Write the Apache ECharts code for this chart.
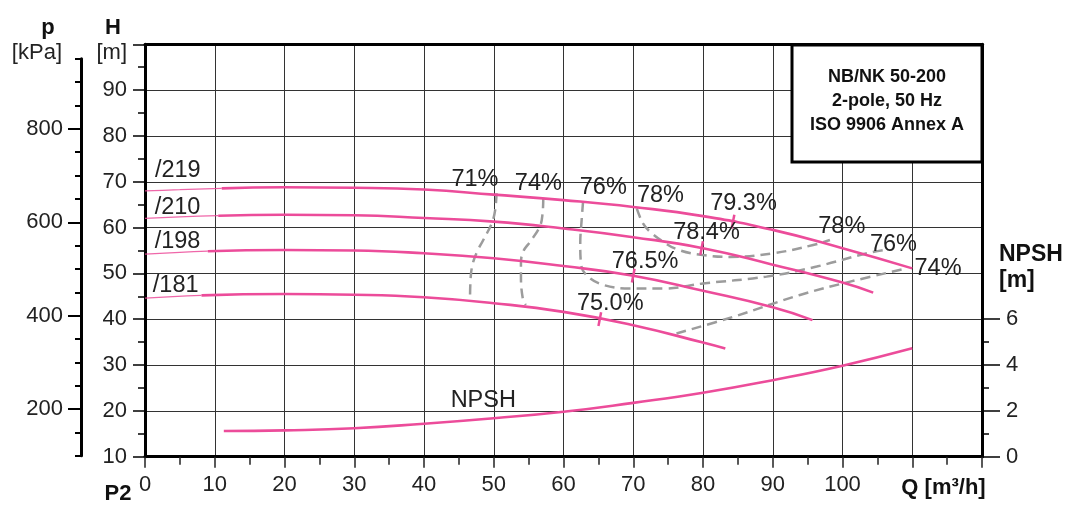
<!DOCTYPE html>
<html><head><meta charset="utf-8">
<script src="https://cdn.jsdelivr.net/npm/echarts@6/dist/echarts.min.js"></script>
<style>html,body{margin:0;padding:0;background:#fff}#c{width:1068px;height:507px}</style>
</head><body><div id="c"></div>
<script>
// ---- data: Q [m3/h], H [m] ----
const curve219 = [[0,68.0],[5,68.3],[11,68.55],[20,68.8],[30,68.7],[40,68.3],[50,67.2],[60,66.0],[70,64.5],[80,62.5],[90,59.5],[100,55.5],[110,51.1]];
const curve210 = [[0,62.0],[5,62.35],[10.5,62.6],[20,62.8],[30,62.7],[40,62.1],[50,61.3],[60,59.8],[70,57.9],[80,55.5],[90,51.9],[100,48.0],[104.4,45.8]];
const curve198 = [[0,54.2],[5,54.6],[9,54.85],[20,55.1],[30,55.0],[40,54.4],[50,53.3],[60,51.6],[70,49.5],[80,46.2],[90,42.6],[95.7,39.8]];
const curve181 = [[0,44.6],[4,44.95],[8.1,45.2],[20,45.5],[30,45.35],[40,44.8],[50,43.5],[60,41.6],[70,38.7],[80,34.9],[83.2,33.6]];
const thinUntil = {'/219':11, '/210':10.5, '/198':9, '/181':8.1};
// NPSH [m]
const npsh = [[11.3,1.12],[20,1.15],[30,1.24],[40,1.44],[50,1.68],[60,1.96],[70,2.35],[80,2.79],[90,3.34],[100,3.97],[110,4.73]];
// iso-efficiency contours
const eff71  = [[50.4,67.5],[50.2,63.8],[49.7,60.9],[48.5,57.3],[47.6,54.7],[47.0,52.2],[46.7,49.3],[46.6,44.5]];
const eff74a = [[57.1,66.4],[57.0,63.1],[56.6,60.2],[55.2,56.9],[54.2,54.7],[53.9,52.2],[53.9,49.3],[54.2,44.2],[54.6,43.1]];
const eff76  = [[62.8,65.6],[62.6,61.6],[62.4,56.6],[62.5,52.2],[63.3,49.6],[65.7,47.5],[69.5,46.7],[74.3,46.7],[80.0,47.8],[89.1,49.3],[96.3,51.5],[103.5,54.4],[105.9,55.1]];
const eff78  = [[70.5,64.2],[71.4,60.9],[72.4,59.1],[74.3,56.9],[76.2,55.3],[79.1,54.2],[83.9,53.6],[90.1,54.4],[95.8,56.2],[98.2,57.3]];
const eff74b = [[76.2,36.9],[84.3,40.5],[93.9,45.3],[101.1,48.2],[109.2,51.1]];
// best efficiency marks on each curve
const bepMarks = [[84.3,61.3],[79.8,55.5],[70.0,49.5],[65.2,40.0]];
// text labels [text, Q, H]
const effLabels = [['71%',47.3,70.6],['74%',56.4,69.7],['76%',65.7,68.7],['78%',73.9,67.1],['79.3%',85.8,65.3],['78.4%',80.5,58.9],['76.5%',71.7,52.7],['75.0%',66.7,43.4],['78%',99.9,60.3],['76%',107.3,56.4],['74%',113.7,51.0]];
const curveLabels = [['/219',4.7,72.4],['/210',4.66,64.4],['/198',4.66,57.0],['/181',4.4,47.4],['NPSH',48.5,22.3]];
const xTicks = [0,10,20,30,40,50,60,70,80,90,100];
const pTicks = [200,400,600,800];
const infoLines = ['NB/NK 50-200','2-pole, 50 Hz','ISO 9906 Annex A'];

// ---- layout ----
const PINK='#ec4c9a', GRAY='#9c9c9c', TXT='#222';
const FONT='"Liberation Sans", Arial, Helvetica, sans-serif';
const L=145, R=982, T=44.3, B=456.7, HMIN=10, HMAX=100;
const pxPerM=(B-T)/(HMAX-HMIN);
const yH=h=>B-(h-HMIN)*pxPerM;
const yP=k=>yH(k/9.81);
const yN=n=>yH(HMIN+5*n);
const lbl={fontSize:22,color:TXT,fontFamily:FONT};

const chart=echarts.init(document.getElementById('c'));
const series=[];
[eff71,eff74a,eff76,eff78,eff74b].forEach(d=>{
  series.push({type:'line',data:d,smooth:0.4,symbol:'none',z:2,
    lineStyle:{color:GRAY,width:2.5,type:[10,6]},xAxisIndex:0,yAxisIndex:0});
});
[['/219',curve219],['/210',curve210],['/198',curve198],['/181',curve181]].forEach(([n,d])=>{
  const q=thinUntil[n];
  series.push({type:'line',data:d.filter(p=>p[0]<=q),smooth:true,symbol:'none',z:3,
    lineStyle:{color:PINK,width:1.3,opacity:0.85}});
  series.push({type:'line',data:d.filter(p=>p[0]>=q),smooth:true,symbol:'none',z:3,
    lineStyle:{color:PINK,width:2.6}});
});
series.push({type:'line',data:npsh,smooth:true,symbol:'none',z:3,xAxisIndex:4,yAxisIndex:4,
  lineStyle:{color:PINK,width:2.6}});
series.push({type:'scatter',data:bepMarks,symbol:'rect',symbolSize:[2.5,14],symbolRotate:-11,z:4,
  itemStyle:{color:PINK,opacity:1}});
series.push({type:'scatter',z:5,symbolSize:1,itemStyle:{color:'rgba(0,0,0,0)',opacity:1},
  data:effLabels.concat(curveLabels).map(a=>({name:a[0],value:[a[1],a[2]]})),
  label:{show:true,position:'inside',formatter:'{b}',fontSize:23.5,color:TXT,fontFamily:FONT,opacity:1,
    textBorderWidth:0,textBorderColor:'transparent',textShadowBlur:0}});

const g=[];
const txt=(t,x,y,opt)=>g.push({type:'text',x:x,y:y,z:110,style:Object.assign({text:t,fill:TXT,
  font:'22px '+FONT,align:'center',verticalAlign:'middle',textAlign:'center',textVerticalAlign:'middle'},opt||{})});
g.push({type:'rect',z:100,shape:{x:792,y:45,width:190,height:117},style:{fill:'#fff',stroke:'#000',lineWidth:3}});
infoLines.forEach((s,i)=>txt(s,887,77+24*i,{font:'bold 18px '+FONT,fill:'#111'}));
txt('p',48,28,{font:'bold 22px '+FONT,fill:'#111'});
txt('H',113,28,{font:'bold 22px '+FONT,fill:'#111'});
txt('[kPa]',62,53,{align:'right',textAlign:'right'});
txt('[m]',127,53,{align:'right',textAlign:'right'});
txt('NPSH',999,255,{font:'bold 23px '+FONT,fill:'#111',align:'left',textAlign:'left'});
txt('[m]',999,281,{font:'bold 23px '+FONT,fill:'#111',align:'left',textAlign:'left'});
txt('P2',118,494,{font:'bold 22px '+FONT,fill:'#111'});
txt('Q [m³/h]',943.5,488,{font:'bold 22px '+FONT,fill:'#111'});

const frame={show:true,onZero:false,lineStyle:{color:'#000',width:3}};
const hiddenLine={show:true,onZero:false,lineStyle:{color:'rgba(0,0,0,0)',width:0}};
chart.setOption({
  animation:false,
  grid:[
    {left:L,top:T,width:R-L,height:B-T},
    {left:81,width:20,top:yP(950),height:yP(100)-yP(950)},
    {left:81,width:20,top:yP(800),height:yP(200)-yP(800)},
    {left:L,width:R-L,top:yN(6),height:yN(0)-yN(6)}
  ],
  xAxis:[
    {gridIndex:0,type:'value',min:0,max:120,interval:10,position:'bottom',axisLine:frame,
      axisTick:{show:true,length:11,lineStyle:{color:'#222',width:1.5}},
      minorTick:{show:true,splitNumber:2,length:8,lineStyle:{color:'#222',width:1.5}},
      splitLine:{show:true,lineStyle:{color:'#333',width:1}},
      axisLabel:Object.assign({margin:17,formatter:v=>xTicks.indexOf(v)>=0?String(v):''},lbl)},
    {gridIndex:0,type:'value',min:0,max:120,position:'top',axisLine:frame,axisTick:{show:false},axisLabel:{show:false},splitLine:{show:false}},
    {gridIndex:1,type:'value',min:0,max:1,show:false},
    {gridIndex:2,type:'value',min:0,max:1,show:false},
    {gridIndex:3,type:'value',min:0,max:120,show:false}
  ],
  yAxis:[
    {gridIndex:0,type:'value',min:HMIN,max:HMAX,interval:10,position:'left',axisLine:frame,
      axisTick:{length:12,lineStyle:{color:'#000',width:1.5}},
      minorTick:{show:true,splitNumber:2,length:7,lineStyle:{color:'#000',width:1.5}},
      splitLine:{show:true,lineStyle:{color:'#333',width:1}},
      axisLabel:Object.assign({margin:18,formatter:v=>v<100?String(v):''},lbl)},
    {gridIndex:0,type:'value',min:HMIN,max:HMAX,position:'right',axisLine:frame,axisTick:{show:false},axisLabel:{show:false},splitLine:{show:false}},
    {gridIndex:1,type:'value',min:100,max:950,interval:50,position:'left',axisLine:frame,
      axisTick:{show:true,length:6,lineStyle:{color:'#000',width:2}},axisLabel:{show:false},splitLine:{show:false}},
    {gridIndex:2,type:'value',min:200,max:800,interval:200,position:'left',axisLine:hiddenLine,
      axisTick:{show:true,length:13,lineStyle:{color:'#000',width:2}},
      axisLabel:Object.assign({margin:18,formatter:v=>pTicks.indexOf(v)>=0?String(v):''},lbl),splitLine:{show:false}},
    {gridIndex:3,type:'value',min:0,max:6,interval:2,position:'right',axisLine:hiddenLine,
      axisTick:{show:true,length:18,lineStyle:{color:'#000',width:1.5}},
      minorTick:{show:true,splitNumber:2,length:7,lineStyle:{color:'#000',width:1.5}},
      axisLabel:Object.assign({margin:24},lbl),splitLine:{show:false}}
  ],
  series:series,
  graphic:g
});
</script></body></html>
